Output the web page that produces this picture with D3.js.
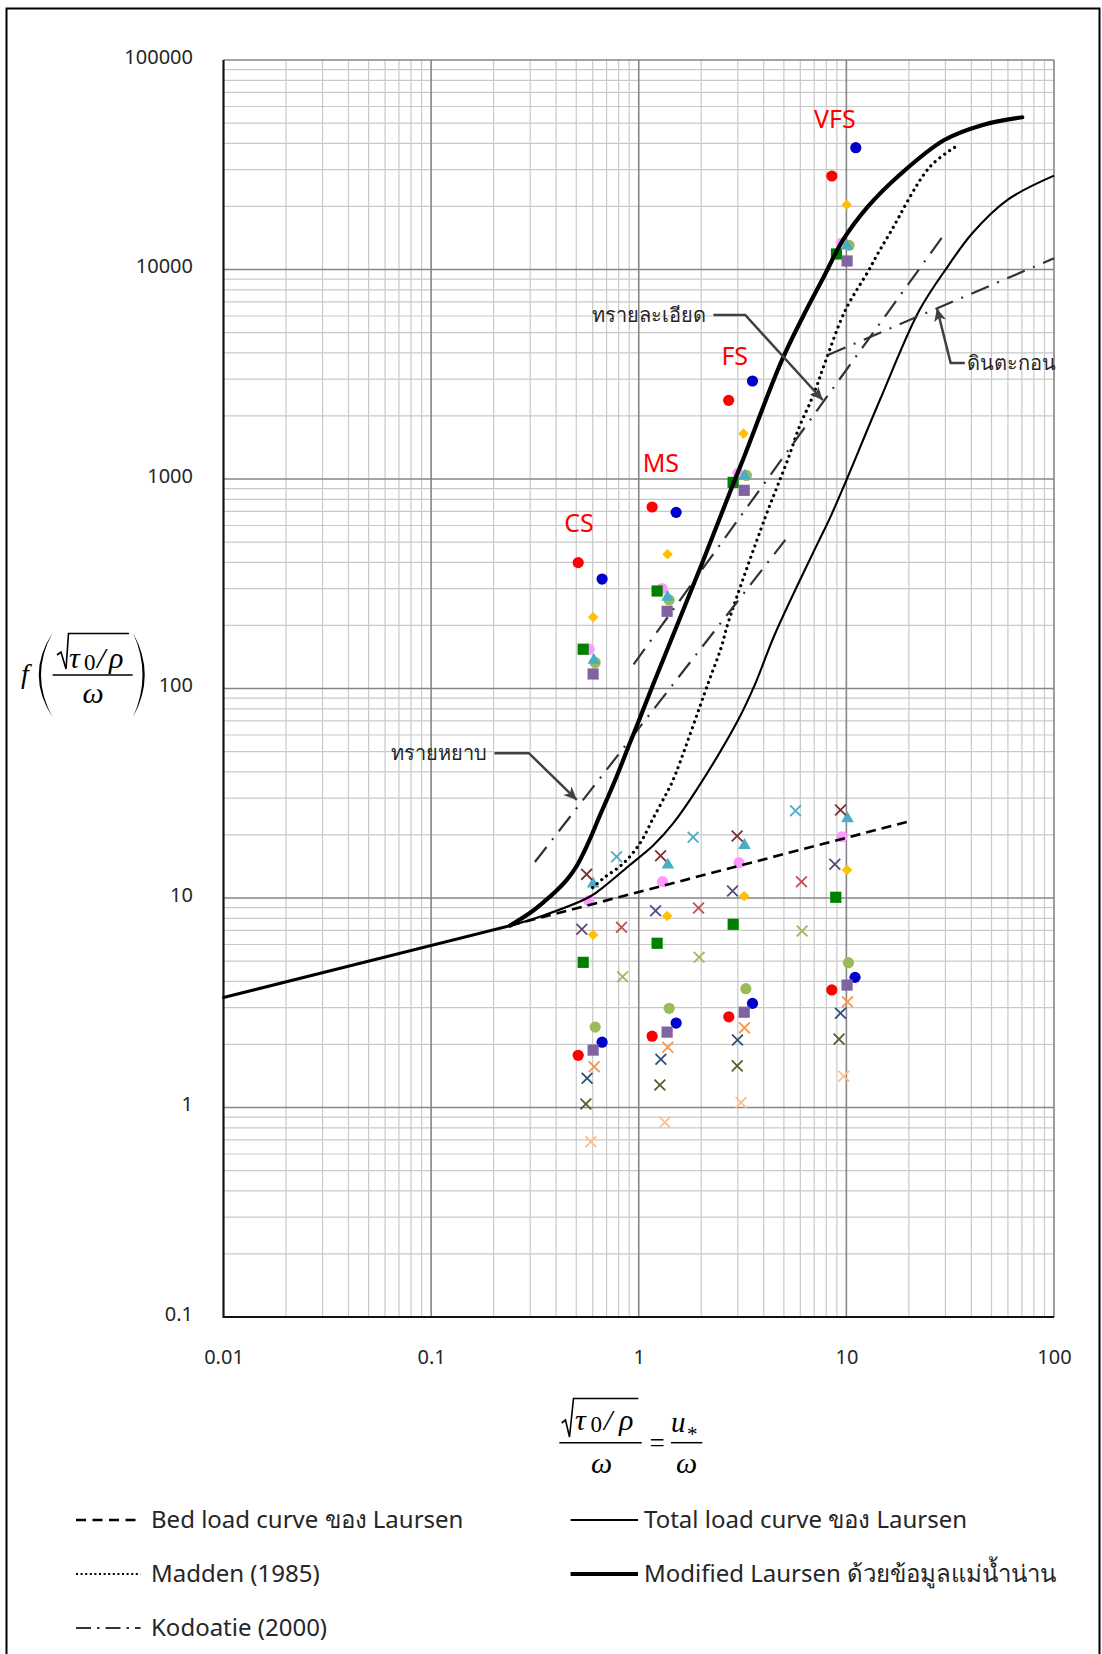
<!DOCTYPE html>
<html lang="th">
<head>
<meta charset="utf-8">
<script src="https://cdn.jsdelivr.net/npm/d3@7"></script>
<style>
html, body { margin: 0; padding: 0; background: #fff; }
svg { display: block; }
</style>
</head>
<body>
<svg id="chart" width="1102" height="1654"></svg>
<script>
// ---------- axis ticks ----------
const xTickValues = [0.01, 0.1, 1, 10, 100];
const xTickLabels = ["0.01", "0.1", "1", "10", "100"];
const yTickValues = [0.1, 1, 10, 100, 1000, 10000, 100000];
const yTickLabels = ["0.1", "1", "10", "100", "1000", "10000", "100000"];

// ---------- reference curves: [u*/ω, f(u*/ω)] ----------
// common straight branch shared by the Laursen curves
const laursenBase = [[0.01, 3.35], [0.24, 7.38]];
const bedLoadLaursen = [[0.24, 7.38], [20, 23.2]];
const totalLoadLaursen = [
  [0.24, 7.38], [0.334, 8.14], [0.581, 10.14], [0.7, 11.6], [0.906, 14.37],
  [1.173, 17.8], [1.464, 22.7], [1.898, 32.8], [3.01, 70.7], [3.59, 102], [4.54, 183],
  [7.25, 490], [8.32, 649], [10.01, 989], [14.5, 2382], [22.5, 6400], [30.7, 10300],
  [40.4, 14900], [59.7, 21500], [100, 28050]
];
const madden1985 = [
  [0.6, 11.2], [0.674, 12.4], [0.841, 14.6], [1.012, 18.2], [1.173, 24], [1.36, 31.6],
  [1.464, 36.6], [2.16, 106], [2.5, 158], [2.69, 205], [4.05, 649], [4.61, 903],
  [5.24, 1250], [5.97, 1800], [6.67, 2297], [7.18, 2758], [7.87, 3565], [9.9, 6410],
  [12.7, 9760], [14.2, 11950], [16.2, 14900], [25.3, 31000], [34.3, 39000]
];
const modifiedLaursen = [
  [0.24, 7.38], [0.3, 8.5], [0.35, 9.6], [0.4, 10.8], [0.45, 12.2],
  [0.5, 14.1], [0.55, 16.9], [0.6, 20.5], [0.65, 24.8], [0.7, 29.3], [0.78, 37.7],
  [0.9, 54], [1.0, 70], [1.152, 100], [2.006, 390], [2.776, 886], [3.18, 1240],
  [4.87, 3650], [6.2, 6000], [7.72, 9080], [9.64, 13840], [12.72, 20000], [17.7, 27800],
  [29.6, 41500], [45.4, 49000], [70.3, 53300]
];
const kodoatieCoarseSand = [[0.316, 14.85], [5.08, 512]];
const kodoatieFineSand = [[0.945, 130.5], [30.1, 15050]];
const kodoatieSilt = [[8.15, 3908], [100, 11310]];

// ---------- measured points (CS, MS, FS, VFS) ----------
const redDotHigh = [[0.511, 399], [1.16, 735], [2.71, 2374], [8.51, 27950]];
const blueDotHigh = [[0.666, 333], [1.514, 693], [3.53, 2936], [11.1, 38140]];
const goldDiamondHigh = [[0.603, 219], [1.376, 437], [3.196, 1646], [10.04, 20390]];
const pinkDotHigh = [[0.577, 154], [1.296, 300], [3.01, 1065], [9.47, 13340]];
const greenSquareHigh = [[0.54, 154], [1.226, 292], [2.848, 964], [8.96, 11860]];
const oliveDotHigh = [[0.617, 133], [1.401, 264.5], [3.3, 1040], [10.3, 13050]];
const tealTriangleHigh = [[0.608, 138], [1.376, 276], [3.24, 1045], [10.08, 13090]];
const purpleSquareHigh = [[0.603, 117.3], [1.37, 233.6], [3.22, 883], [10.08, 10980]];

const redDotLow = [[0.511, 1.775], [1.16, 2.19], [2.715, 2.71], [8.51, 3.64]];
const blueDotLow = [[0.666, 2.05], [1.514, 2.53], [3.53, 3.14], [11.01, 4.18]];
const goldDiamondLow = [[0.603, 6.68], [1.37, 8.21], [3.22, 10.22], [10.08, 13.6]];
const pinkDotLow = [[0.575, 9.71], [1.302, 11.96], [3.04, 14.74], [9.54, 19.6]];
const greenSquareLow = [[0.54, 4.93], [1.226, 6.08], [2.85, 7.49], [8.89, 10.08]];
const oliveDotLow = [[0.617, 2.42], [1.401, 2.975], [3.28, 3.69], [10.23, 4.91]];
const tealTriangleLow = [[0.603, 11.79], [1.381, 14.53], [3.23, 18.04], [10.12, 24.2]];
const purpleSquareLow = [[0.603, 1.88], [1.37, 2.29], [3.22, 2.85], [10.08, 3.84]];

const maroonCross = [[0.561, 12.97], [1.274, 15.92], [2.977, 19.77], [9.37, 26.3]];
const aquaCross = [[0.782, 15.75], [1.827, 19.49], [5.69, 26.1]];
const violetCross = [[0.532, 7.09], [1.205, 8.7], [2.83, 10.8], [8.8, 14.48]];
const brickCross = [[0.826, 7.25], [1.941, 8.96], [6.08, 11.96]];
const limeCross = [[0.836, 4.21], [1.953, 5.21], [6.12, 6.96]];
const orangeCross = [[0.61, 1.566], [1.38, 1.94], [3.23, 2.4], [10.12, 3.2]];
const navyCross = [[0.564, 1.379], [1.278, 1.7], [2.99, 2.1], [9.37, 2.82]];
const mossCross = [[0.556, 1.039], [1.264, 1.28], [2.98, 1.58], [9.22, 2.12]];
const peachCross = [[0.588, 0.687], [1.336, 0.85], [3.11, 1.055], [9.72, 1.41]];

// ---------- text labels ----------
const groupLabels = ["CS", "MS", "FS", "VFS"];
const groupLabelAt = [[0.515, 617], [1.278, 1192], [2.9, 3864], [8.8, 52240]];

const calloutLabels = ["ทรายหยาบ", "ทรายละเอียด", "ดินตะกอน"];
const calloutStart = [[0.2019, 49.1], [2.29, 6070], [37.2, 3579]];
const calloutElbow = [[0.2958, 49.1], [3.257, 6070], [31.8, 3579]];
const calloutTip = [[0.503, 29.4], [7.69, 2382], [27.3, 6530]];
const calloutSide = ["left", "left", "right"];

const legendLabels = [
  "Bed load curve ของ Laursen",
  "Total load curve ของ Laursen",
  "Madden (1985)",
  "Modified Laursen ด้วยข้อมูลแม่น้ำน่าน",
  "Kodoatie (2000)"
];

// ---------- drawing ----------
const svg = d3.select("#chart");
const FONT = "'Noto Sans', 'Open Sans', sans-serif";
const MATH = "'Liberation Serif', 'DejaVu Serif', serif";
const plot = { left: 223.5, right: 1054, top: 60, bottom: 1317 };

const x = d3.scaleLog().domain([0.01, 100]).range([plot.left, plot.right]);
const y = d3.scaleLog().domain([0.1, 100000]).range([plot.bottom, plot.top]);

// page frame
svg.append("rect")
  .attr("x", 6.5).attr("y", 8.5).attr("width", 1093).attr("height", 1700)
  .attr("fill", "none").attr("stroke", "#000").attr("stroke-width", 2);

// grid
const isDecade = v => Math.abs(Math.log10(v) - Math.round(Math.log10(v))) < 1e-9;
const gx = x.ticks();
const gy = y.ticks();
const grid = svg.append("g");
grid.selectAll("line.minor-x").data(gx.filter(v => !isDecade(v))).join("line")
  .attr("x1", d => x(d)).attr("x2", d => x(d)).attr("y1", plot.top).attr("y2", plot.bottom)
  .attr("stroke", "#c9c9c9").attr("stroke-width", 1.2);
grid.selectAll("line.minor-y").data(gy.filter(v => !isDecade(v))).join("line")
  .attr("y1", d => y(d)).attr("y2", d => y(d)).attr("x1", plot.left).attr("x2", plot.right)
  .attr("stroke", "#c9c9c9").attr("stroke-width", 1.2);
grid.selectAll("line.major-x").data(gx.filter(isDecade)).join("line")
  .attr("x1", d => x(d)).attr("x2", d => x(d)).attr("y1", plot.top).attr("y2", plot.bottom)
  .attr("stroke", "#868686").attr("stroke-width", 1.6);
grid.selectAll("line.major-y").data(gy.filter(isDecade)).join("line")
  .attr("y1", d => y(d)).attr("y2", d => y(d)).attr("x1", plot.left).attr("x2", plot.right)
  .attr("stroke", "#868686").attr("stroke-width", 1.6);

// axes
const yAxis = d3.axisLeft(y).tickValues(yTickValues)
  .tickFormat((d, i) => yTickLabels[i]).tickSize(0).tickPadding(30.5);
const yg = svg.append("g").attr("transform", `translate(${plot.left},0)`).call(yAxis);
yg.select(".domain").remove();
yg.selectAll("text").attr("font-family", FONT).attr("font-size", 20)
  .attr("fill", "#262626").attr("dy", "0.17em");

const xAxis = d3.axisBottom(x).tickValues(xTickValues)
  .tickFormat((d, i) => xTickLabels[i]).tickSize(0).tickPadding(33);
const xg = svg.append("g").attr("transform", `translate(0,${plot.bottom})`).call(xAxis);
xg.select(".domain").remove();
xg.selectAll("text").attr("font-family", FONT).attr("font-size", 20).attr("fill", "#262626");

svg.append("line").attr("x1", plot.left).attr("x2", plot.left)
  .attr("y1", plot.top).attr("y2", plot.bottom + 1).attr("stroke", "#111").attr("stroke-width", 2);
svg.append("line").attr("x1", plot.left).attr("x2", plot.right)
  .attr("y1", plot.bottom).attr("y2", plot.bottom).attr("stroke", "#111").attr("stroke-width", 2);

// markers
const markerSeries = [
  { data: redDotHigh, shape: "circle", color: "#ff0000" },
  { data: blueDotHigh, shape: "circle", color: "#0000cc" },
  { data: goldDiamondHigh, shape: "diamond", color: "#ffc000" },
  { data: pinkDotHigh, shape: "circle", color: "#ff99ff" },
  { data: greenSquareHigh, shape: "square", color: "#008000" },
  { data: oliveDotHigh, shape: "circle", color: "#9bbb59" },
  { data: tealTriangleHigh, shape: "triangle", color: "#4bacc6" },
  { data: purpleSquareHigh, shape: "square", color: "#8064a2" },
  { data: redDotLow, shape: "circle", color: "#ff0000" },
  { data: blueDotLow, shape: "circle", color: "#0000cc" },
  { data: goldDiamondLow, shape: "diamond", color: "#ffc000" },
  { data: pinkDotLow, shape: "circle", color: "#ff99ff" },
  { data: greenSquareLow, shape: "square", color: "#008000" },
  { data: oliveDotLow, shape: "circle", color: "#9bbb59" },
  { data: tealTriangleLow, shape: "triangle", color: "#4bacc6" },
  { data: purpleSquareLow, shape: "square", color: "#8064a2" },
  { data: maroonCross, shape: "x", color: "#7a2f2f" },
  { data: aquaCross, shape: "x", color: "#4bacc6" },
  { data: violetCross, shape: "x", color: "#5b4878" },
  { data: brickCross, shape: "x", color: "#c0504d" },
  { data: limeCross, shape: "x", color: "#9bbb59" },
  { data: orangeCross, shape: "x", color: "#f79646" },
  { data: navyCross, shape: "x", color: "#2f4f7a" },
  { data: mossCross, shape: "x", color: "#4f6228" },
  { data: peachCross, shape: "x", color: "#fac090" }
];
const shapePath = {
  circle: d3.symbol(d3.symbolCircle, Math.PI * 5.6 * 5.6)(),
  square: "M-5.6,-5.6H5.6V5.6H-5.6Z",
  diamond: "M0,-5.3L5.3,0L0,5.3L-5.3,0Z",
  triangle: "M0,-6.3L6.3,4.6L-6.3,4.6Z",
  x: "M-5.4,-5.4L5.4,5.4M-5.4,5.4L5.4,-5.4"
};
const markers = svg.append("g");
markerSeries.forEach(s => {
  markers.append("g").selectAll("path").data(s.data).join("path")
    .attr("transform", d => `translate(${x(d[0])},${y(d[1])})`)
    .attr("d", shapePath[s.shape])
    .attr("fill", s.shape === "x" ? "none" : s.color)
    .attr("stroke", s.shape === "x" ? s.color : "none")
    .attr("stroke-width", s.shape === "x" ? 1.8 : 0);
});

// curves
const smooth = d3.line().x(d => x(d[0])).y(d => y(d[1])).curve(d3.curveCatmullRom.alpha(0.5));
const straight = d3.line().x(d => x(d[0])).y(d => y(d[1]));
const curves = svg.append("g").attr("fill", "none");
const lineStyles = {
  base: { stroke: "#000", width: 3, dash: null, cap: "round" },
  bed: { stroke: "#000", width: 2.6, dash: "10,6", cap: "butt" },
  total: { stroke: "#000", width: 2.1, dash: null, cap: "butt" },
  madden: { stroke: "#000", width: 3.2, dash: "0.01,6", cap: "round" },
  modified: { stroke: "#000", width: 4.2, dash: null, cap: "round" },
  kodoatie: { stroke: "#333", width: 2.2, dash: "19,9,2,9", cap: "butt" }
};
function drawCurve(data, gen, style) {
  curves.append("path").attr("d", gen(data))
    .attr("stroke", style.stroke).attr("stroke-width", style.width)
    .attr("stroke-dasharray", style.dash).attr("stroke-linecap", style.cap)
    .attr("stroke-linejoin", "round");
}
drawCurve(laursenBase, straight, lineStyles.base);
drawCurve(totalLoadLaursen, smooth, lineStyles.total);
drawCurve(bedLoadLaursen, straight, lineStyles.bed);
drawCurve(madden1985, smooth, lineStyles.madden);
drawCurve(kodoatieCoarseSand, straight, lineStyles.kodoatie);
drawCurve(kodoatieFineSand, straight, lineStyles.kodoatie);
drawCurve(kodoatieSilt, straight, lineStyles.kodoatie);
drawCurve(modifiedLaursen, smooth, lineStyles.modified);

// size-class labels
svg.append("g").selectAll("text").data(groupLabels).join("text")
  .attr("x", (d, i) => x(groupLabelAt[i][0]))
  .attr("y", (d, i) => y(groupLabelAt[i][1]))
  .attr("dy", "0.36em").attr("text-anchor", "middle")
  .attr("font-family", FONT).attr("font-size", 25).attr("fill", "#ff0000")
  .text(d => d);

// callouts with arrows
svg.append("defs").append("marker")
  .attr("id", "arrowhead").attr("viewBox", "-14 -7 16 14")
  .attr("refX", 0).attr("refY", 0).attr("markerWidth", 16).attr("markerHeight", 14)
  .attr("markerUnits", "userSpaceOnUse").attr("orient", "auto")
  .append("path").attr("d", "M0,0L-13,-6L-9.5,0L-13,6Z").attr("fill", "#404040");
const callouts = svg.append("g");
calloutLabels.forEach((label, i) => {
  const s = calloutStart[i], e = calloutElbow[i], t = calloutTip[i];
  callouts.append("path")
    .attr("d", `M${x(s[0])},${y(s[1])}L${x(e[0])},${y(e[1])}L${x(t[0])},${y(t[1])}`)
    .attr("fill", "none").attr("stroke", "#404040").attr("stroke-width", 2.5)
    .attr("stroke-linejoin", "miter").attr("marker-end", "url(#arrowhead)");
  const left = calloutSide[i] === "left";
  callouts.append("text")
    .attr("x", x(s[0]) + (left ? -7 : 2)).attr("y", y(s[1]))
    .attr("dy", "0.35em").attr("text-anchor", left ? "end" : "start")
    .attr("font-family", FONT).attr("font-size", 20).attr("fill", "#262626")
    .text(label);
});

// y-axis title: f( sqrt(tau0/rho) / omega )
const yt = svg.append("g").attr("fill", "#000");
yt.append("text").attr("x", 21).attr("y", 683).attr("font-family", MATH)
  .attr("font-style", "italic").attr("font-size", 28).text("f");
yt.append("path").attr("d", "M52.5,633 Q25,675 52.5,717 Q29.5,675 52.5,633Z");
yt.append("path").attr("d", "M133,633 Q156.5,675 133,717 Q152,675 133,633Z");
yt.append("path").attr("d", "M57,655 L61,652 L66,669 L68.5,633.5 L129,633.5")
  .attr("fill", "none").attr("stroke", "#000").attr("stroke-width", 1.6);
yt.append("text").attr("x", 69).attr("y", 668).attr("font-family", MATH)
  .attr("font-style", "italic").attr("font-size", 30).text("τ");
yt.append("text").attr("x", 84).attr("y", 670).attr("font-family", MATH)
  .attr("font-size", 23).text("0");
yt.append("text").attr("x", 97).attr("y", 668).attr("font-family", MATH)
  .attr("font-style", "italic").attr("font-size", 30).text("/");
yt.append("text").attr("x", 109).attr("y", 668).attr("font-family", MATH)
  .attr("font-style", "italic").attr("font-size", 30).text("ρ");
yt.append("line").attr("x1", 52.6).attr("x2", 132.6).attr("y1", 675).attr("y2", 675)
  .attr("stroke", "#000").attr("stroke-width", 1.5);
yt.append("text").attr("x", 93).attr("y", 703).attr("text-anchor", "middle")
  .attr("font-family", MATH).attr("font-style", "italic").attr("font-size", 30).text("ω");

// x-axis title: sqrt(tau0/rho)/omega = u*/omega
const xt = svg.append("g").attr("fill", "#000");
xt.append("path").attr("d", "M561.7,1423 L565.5,1420 L569.5,1437 L573.5,1398.5 L638.3,1398.5")
  .attr("fill", "none").attr("stroke", "#000").attr("stroke-width", 1.6);
xt.append("text").attr("x", 575).attr("y", 1430).attr("font-family", MATH)
  .attr("font-style", "italic").attr("font-size", 30).text("τ");
xt.append("text").attr("x", 590.5).attr("y", 1432).attr("font-family", MATH)
  .attr("font-size", 23).text("0");
xt.append("text").attr("x", 604).attr("y", 1430).attr("font-family", MATH)
  .attr("font-style", "italic").attr("font-size", 30).text("/");
xt.append("text").attr("x", 619).attr("y", 1430).attr("font-family", MATH)
  .attr("font-style", "italic").attr("font-size", 30).text("ρ");
xt.append("line").attr("x1", 559.3).attr("x2", 641.7).attr("y1", 1442.7).attr("y2", 1442.7)
  .attr("stroke", "#000").attr("stroke-width", 1.5);
xt.append("text").attr("x", 601.7).attr("y", 1472.5).attr("text-anchor", "middle")
  .attr("font-family", MATH).attr("font-style", "italic").attr("font-size", 30).text("ω");
xt.append("text").attr("x", 657).attr("y", 1452).attr("text-anchor", "middle")
  .attr("font-family", MATH).attr("font-size", 27).text("=");
const uStar = xt.append("text").attr("x", 671).attr("y", 1431.7).attr("font-family", MATH);
uStar.append("tspan").attr("font-style", "italic").attr("font-size", 29).text("u");
uStar.append("tspan").attr("dx", 1.5).attr("dy", 9.5).attr("font-size", 21).text("*");
xt.append("line").attr("x1", 671).attr("x2", 702.3).attr("y1", 1442.7).attr("y2", 1442.7)
  .attr("stroke", "#000").attr("stroke-width", 1.5);
xt.append("text").attr("x", 686.7).attr("y", 1472.5).attr("text-anchor", "middle")
  .attr("font-family", MATH).attr("font-style", "italic").attr("font-size", 30).text("ω");

// legend
const legendKeys = ["bed", "total", "madden", "modified", "kodoatie"];
const legendCol = [0, 1, 0, 1, 0];
const legendRow = [0, 0, 1, 1, 2];
const legendSampleDash = { bed: "10,6.5", madden: "2,2.6", kodoatie: "15,6,2.5,6" };
const legend = svg.append("g");
legendLabels.forEach((label, i) => {
  const key = legendKeys[i];
  const st = lineStyles[key];
  const x0 = legendCol[i] === 0 ? 76 : 570.6;
  const x1 = legendCol[i] === 0 ? 140.6 : 638;
  const cy = 1520 + legendRow[i] * 54;
  legend.append("line").attr("x1", x0).attr("x2", x1).attr("y1", cy).attr("y2", cy)
    .attr("stroke", st.stroke)
    .attr("stroke-width", key === "madden" ? 2 : key === "modified" ? 4.2 : st.width)
    .attr("stroke-dasharray", legendSampleDash[key] || null);
  legend.append("text").attr("x", legendCol[i] === 0 ? 151 : 644).attr("y", cy)
    .attr("dy", "0.35em").attr("font-family", FONT).attr("font-size", 24)
    .attr("fill", "#262626").text(label);
});
</script>
</body>
</html>
